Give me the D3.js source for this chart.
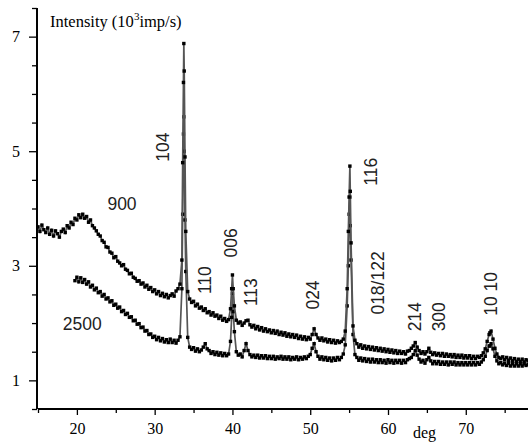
<!DOCTYPE html>
<html><head><meta charset="utf-8">
<script src="https://cdn.jsdelivr.net/npm/d3@7"></script>
<style>body{margin:0;background:#fff}</style></head>
<body><svg id="c" width="528" height="446"></svg>
<script>
// ---- data ----
const xTicksMajor = [20, 30, 40, 50, 60, 70];
const xTicksMinor = [15, 25, 35, 45, 55, 65, 75];
const yTicksMajor = [1, 3, 5, 7];
const yTicksMinor = [0.5, 1.5, 2, 2.5, 3.5, 4, 4.5, 5.5, 6, 6.5, 7.5];
const gridStep = 0.25;

// series "900": sampled every 0.25 deg from 15 deg
const start900 = 15;
const int900 = [
 3.68,3.60,3.71,3.63, 3.58,3.66,3.55,3.62, 3.52,3.61,3.56,3.50, 3.60,3.64,3.58,3.70,
 3.66,3.76,3.72,3.83, 3.80,3.89,3.84,3.90, 3.83,3.86,3.76,3.80, 3.70,3.66,3.61,3.55,
 3.52,3.44,3.41,3.33, 3.32,3.24,3.22,3.14, 3.16,3.08,3.05,3.00, 3.02,2.94,2.92,2.86,
 2.87,2.80,2.78,2.73, 2.74,2.68,2.70,2.63, 2.66,2.59,2.62,2.55, 2.58,2.51,2.55,2.48,
 2.52,2.46,2.50,2.44, 2.48,2.51,2.47,2.56, 2.60,2.68,3.10,6.88, 3.60,2.55,2.42,2.36,
 2.38,2.30,2.33,2.26, 2.28,2.22,2.25,2.18, 2.20,2.14,2.18,2.12, 2.14,2.08,2.12,2.05,
 2.08,2.03,2.06,2.25, 2.84,2.30,2.05,2.00, 2.02,1.96,2.00,2.04, 2.05,1.97,1.93,1.96,
 1.90,1.94,1.88,1.92, 1.86,1.90,1.85,1.88, 1.83,1.87,1.82,1.86, 1.80,1.84,1.79,1.83,
 1.77,1.81,1.76,1.80, 1.75,1.79,1.73,1.77, 1.72,1.76,1.71,1.75, 1.72,1.80,1.90,1.80,
 1.74,1.70,1.74,1.69, 1.72,1.67,1.71,1.66, 1.70,1.65,1.69,1.66, 1.68,1.72,1.86,2.60,
 4.20,3.40,1.95,1.70, 1.64,1.58,1.62,1.56, 1.60,1.55,1.59,1.54, 1.58,1.53,1.57,1.52,
 1.56,1.51,1.55,1.50, 1.54,1.49,1.53,1.48, 1.52,1.47,1.51,1.47, 1.50,1.46,1.51,1.52,
 1.56,1.60,1.66,1.58, 1.52,1.47,1.50,1.46, 1.50,1.56,1.49,1.45, 1.48,1.44,1.47,1.43,
 1.47,1.42,1.46,1.42, 1.45,1.41,1.45,1.40, 1.44,1.40,1.44,1.39, 1.43,1.39,1.43,1.38,
 1.42,1.38,1.42,1.40, 1.43,1.48,1.55,1.68, 1.80,1.86,1.72,1.56, 1.46,1.40,1.38,1.41,
 1.36,1.40,1.35,1.39, 1.34,1.38,1.33,1.37, 1.33,1.37,1.32,1.36, 1.34
];
const extra900 = [[33.6,4.8],[33.7,6.2],[33.8,6.4],[33.9,4.9],[39.9,2.6],[40.1,2.6],
                  [54.9,3.6],[55.1,4.74],[55.15,4.3],[73.1,1.83]];

// series "2500": sampled every 0.25 deg from 19.75 deg
const start2500 = 19.75;
const int2500 = [
 2.74,
 2.80,2.72,2.79,2.71, 2.76,2.68,2.72,2.63, 2.66,2.58,2.61,2.53, 2.55,2.47,2.50,2.42,
 2.44,2.37,2.39,2.31, 2.33,2.26,2.28,2.20, 2.22,2.15,2.17,2.10, 2.11,2.04,2.05,1.98,
 1.99,1.92,1.93,1.86, 1.87,1.80,1.81,1.75, 1.77,1.71,1.75,1.69, 1.73,1.67,1.71,1.66,
 1.72,1.66,1.70,1.65, 1.70,1.76,2.60,5.60, 2.90,1.75,1.58,1.54, 1.57,1.51,1.55,1.50,
 1.53,1.58,1.64,1.55, 1.52,1.47,1.50,1.45, 1.49,1.44,1.48,1.43, 1.47,1.43,1.46,1.68,
 2.52,1.85,1.50,1.44, 1.46,1.41,1.52,1.64, 1.52,1.45,1.41,1.44, 1.40,1.44,1.39,1.43,
 1.39,1.43,1.38,1.42, 1.38,1.42,1.37,1.41, 1.38,1.42,1.37,1.41, 1.37,1.41,1.36,1.40,
 1.37,1.41,1.36,1.40, 1.37,1.41,1.38,1.42, 1.45,1.56,1.64,1.50, 1.42,1.37,1.41,1.36,
 1.40,1.35,1.39,1.34, 1.39,1.35,1.40,1.36, 1.40,1.46,1.62,2.30, 3.90,3.10,1.80,1.45,
 1.40,1.35,1.39,1.34, 1.38,1.33,1.37,1.32, 1.37,1.32,1.36,1.31, 1.36,1.31,1.35,1.30,
 1.36,1.31,1.35,1.30, 1.35,1.31,1.35,1.30, 1.35,1.31,1.36,1.38, 1.40,1.45,1.52,1.44,
 1.37,1.32,1.35,1.30, 1.36,1.40,1.34,1.29, 1.33,1.29,1.33,1.28, 1.32,1.28,1.32,1.27,
 1.32,1.28,1.32,1.27, 1.31,1.27,1.31,1.27, 1.31,1.27,1.31,1.27, 1.31,1.27,1.31,1.28,
 1.32,1.36,1.42,1.52, 1.60,1.64,1.55,1.42, 1.34,1.29,1.31,1.27, 1.30,1.26,1.30,1.25,
 1.29,1.25,1.29,1.25, 1.29,1.25,1.29,1.26, 1.28
];
const extra2500 = [[33.6,3.9],[33.7,5.3],[33.8,5.0],[33.9,3.8],[39.9,2.1],[40.1,2.2],
                   [54.9,3.0],[55.1,4.2],[55.15,3.7],[73.1,1.6]];

// annotation texts and their anchor (deg, intensity)
const labelTexts = ["900","2500","104","110","006","113","024","116","018/122","214","300","10 10"];
const labelDeg   = [25.8, 20.7, 31.06, 36.47, 39.81, 42.38, 50.35, 57.81, 58.71, 63.47, 66.55, 73.24];
const labelInt   = [4.08, 1.98, 5.07, 2.75, 3.40, 2.54, 2.49, 4.64, 2.70, 2.11, 2.11, 2.51];
const labelRot   = [false, false, true, true, true, true, true, true, true, true, true, true];

// ---- drawing ----
const svg = d3.select("#c");
const x = d3.scaleLinear().domain([15, 78]).range([38, 528]);
const y = d3.scaleLinear().domain([0.5, 7.5]).range([409, 8]);

function build(start, vals, extra) {
  const pts = vals.map((v, i) => [start + i * gridStep, v]);
  extra.forEach(e => pts.push(e));
  pts.sort((a, b) => a[0] - b[0]);
  return pts;
}
const s900 = build(start900, int900, extra900);
const s2500 = build(start2500, int2500, extra2500);

const line = d3.line().x(d => x(d[0])).y(d => y(d[1]));
[s2500, s900].forEach(s => {
  svg.append("path").datum(s).attr("d", line)
    .attr("fill", "none").attr("stroke", "#555").attr("stroke-width", 1.7);
  svg.append("g").selectAll("rect").data(s).join("rect")
    .attr("x", d => x(d[0]) - 1.7).attr("y", d => y(d[1]) - 1.7)
    .attr("width", 3.4).attr("height", 3.4).attr("fill", "#000");
});

// axes
const serif = "'Liberation Serif','Times New Roman',serif";
const gx = svg.append("g").attr("transform", "translate(0,409)");
gx.call(d3.axisBottom(x).tickValues(xTicksMajor).tickSize(6).tickPadding(8).tickFormat(d3.format("d")));
const gxm = svg.append("g").attr("transform", "translate(0,409)");
gxm.call(d3.axisBottom(x).tickValues(xTicksMinor).tickSize(4).tickFormat(""));
const gy = svg.append("g").attr("transform", "translate(37,0)");
gy.call(d3.axisLeft(y).tickValues(yTicksMajor).tickSize(8).tickPadding(9).tickFormat(d3.format("d")));
const gym = svg.append("g").attr("transform", "translate(37,0)");
gym.call(d3.axisLeft(y).tickValues(yTicksMinor).tickSize(5).tickFormat(""));
[gx, gxm, gy, gym].forEach(g => {
  g.selectAll(".domain").attr("stroke", "#000").attr("stroke-width", 1.8);
  g.selectAll(".tick line").attr("stroke", "#000").attr("stroke-width", 1.3);
  g.selectAll("text").attr("font-family", serif).attr("font-size", 16).attr("fill", "#000");
});
gx.select(".domain").attr("d", "M38,0H528");
gxm.select(".domain").attr("d", "M38,0H528");
gy.select(".domain").attr("d", "M0,8V409");
gym.select(".domain").attr("d", "M0,8V409");

// axis titles
const t = svg.append("text").attr("x", 50).attr("y", 27)
  .attr("font-family", serif).attr("font-size", 16.5).attr("fill", "#000");
t.append("tspan").text("Intensity (10");
t.append("tspan").attr("font-size", 11).attr("dy", -7).text("3");
t.append("tspan").attr("dy", 7).text("imp/s)");
svg.append("text").attr("x", 413).attr("y", 438)
  .attr("font-family", serif).attr("font-size", 16).attr("fill", "#000").text("deg");

// annotations
const sans = "'Liberation Sans',Arial,sans-serif";
labelTexts.forEach((txt, i) => {
  const px = x(labelDeg[i]), py = y(labelInt[i]);
  svg.append("text")
    .attr("transform", `translate(${px},${py})` + (labelRot[i] ? " rotate(-90)" : ""))
    .attr("text-anchor", "middle").attr("dominant-baseline", "central")
    .attr("font-family", sans).attr("font-size", 17.5).attr("fill", "#222").text(txt);
});
</script></body></html>
